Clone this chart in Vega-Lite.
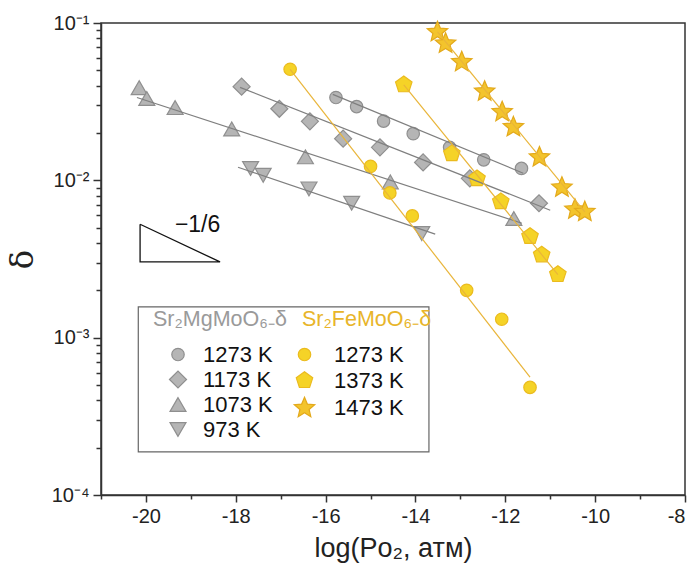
{
  "$schema": "https://vega.github.io/schema/vega-lite/v6.json",
  "width": 584,
  "height": 472,
  "autosize": "none",
  "padding": {"left": 101, "top": 23, "right": 10, "bottom": 77},
  "background": "white",
  "config": {
    "font": "Liberation Sans",
    "view": {"stroke": "#333333", "strokeWidth": 1.5},
    "axis": {"grid": false, "domainColor": "#333333", "domainWidth": 1.5, "tickColor": "#333333", "tickWidth": 1.5, "labelColor": "#222222", "titleColor": "#222222", "titleFontWeight": "normal", "labelFont": "Liberation Sans", "titleFont": "Liberation Sans"}
  },
  "datasets": {
    "mg": [
      {"series": "Mg 1273", "logPO2": -15.77, "delta": 0.0336},
      {"series": "Mg 1273", "logPO2": -15.31, "delta": 0.0294},
      {"series": "Mg 1273", "logPO2": -14.71, "delta": 0.0238},
      {"series": "Mg 1273", "logPO2": -14.05, "delta": 0.0198},
      {"series": "Mg 1273", "logPO2": -13.24, "delta": 0.0162},
      {"series": "Mg 1273", "logPO2": -12.48, "delta": 0.0135},
      {"series": "Mg 1273", "logPO2": -11.64, "delta": 0.0119},
      {"series": "Mg 1173", "logPO2": -17.87, "delta": 0.0394},
      {"series": "Mg 1173", "logPO2": -17.03, "delta": 0.0285},
      {"series": "Mg 1173", "logPO2": -16.35, "delta": 0.0237},
      {"series": "Mg 1173", "logPO2": -15.61, "delta": 0.0184},
      {"series": "Mg 1173", "logPO2": -14.79, "delta": 0.0162},
      {"series": "Mg 1173", "logPO2": -13.83, "delta": 0.0130},
      {"series": "Mg 1173", "logPO2": -12.79, "delta": 0.0103},
      {"series": "Mg 1173", "logPO2": -11.25, "delta": 0.00715},
      {"series": "Mg 1073", "logPO2": -20.15, "delta": 0.0388},
      {"series": "Mg 1073", "logPO2": -19.98, "delta": 0.0331},
      {"series": "Mg 1073", "logPO2": -19.35, "delta": 0.0290},
      {"series": "Mg 1073", "logPO2": -18.09, "delta": 0.0212},
      {"series": "Mg 1073", "logPO2": -16.45, "delta": 0.0141},
      {"series": "Mg 1073", "logPO2": -14.56, "delta": 0.00977},
      {"series": "Mg 1073", "logPO2": -11.81, "delta": 0.00572},
      {"series": "Mg 973", "logPO2": -17.67, "delta": 0.0119},
      {"series": "Mg 973", "logPO2": -17.39, "delta": 0.01077},
      {"series": "Mg 973", "logPO2": -16.37, "delta": 0.00882},
      {"series": "Mg 973", "logPO2": -15.42, "delta": 0.00715},
      {"series": "Mg 973", "logPO2": -13.86, "delta": 0.00459}
    ],
    "fe": [
      {"series": "Fe 1273", "logPO2": -16.79, "delta": 0.0508},
      {"series": "Fe 1273", "logPO2": -15.00, "delta": 0.01226},
      {"series": "Fe 1273", "logPO2": -14.57, "delta": 0.00832},
      {"series": "Fe 1273", "logPO2": -14.07, "delta": 0.00594},
      {"series": "Fe 1273", "logPO2": -12.86, "delta": 0.00200},
      {"series": "Fe 1273", "logPO2": -12.08, "delta": 0.00131},
      {"series": "Fe 1273", "logPO2": -11.45, "delta": 0.000483},
      {"series": "Fe 1373", "logPO2": -14.26, "delta": 0.0405},
      {"series": "Fe 1373", "logPO2": -13.19, "delta": 0.0148},
      {"series": "Fe 1373", "logPO2": -12.63, "delta": 0.01026},
      {"series": "Fe 1373", "logPO2": -12.10, "delta": 0.00733},
      {"series": "Fe 1373", "logPO2": -11.45, "delta": 0.00440},
      {"series": "Fe 1373", "logPO2": -11.19, "delta": 0.00336},
      {"series": "Fe 1373", "logPO2": -10.83, "delta": 0.00252},
      {"series": "Fe 1473", "logPO2": -13.51, "delta": 0.0877},
      {"series": "Fe 1473", "logPO2": -13.33, "delta": 0.0740},
      {"series": "Fe 1473", "logPO2": -12.97, "delta": 0.0565},
      {"series": "Fe 1473", "logPO2": -12.46, "delta": 0.0367},
      {"series": "Fe 1473", "logPO2": -12.07, "delta": 0.0272},
      {"series": "Fe 1473", "logPO2": -11.82, "delta": 0.0218},
      {"series": "Fe 1473", "logPO2": -11.24, "delta": 0.01402},
      {"series": "Fe 1473", "logPO2": -10.74, "delta": 0.00901},
      {"series": "Fe 1473", "logPO2": -10.45, "delta": 0.00653},
      {"series": "Fe 1473", "logPO2": -10.23, "delta": 0.00630}
    ],
    "mgfit": [
      {"series": "Mg 1273", "logPO2": -15.84, "delta": 0.0352},
      {"series": "Mg 1273", "logPO2": -11.60, "delta": 0.0111},
      {"series": "Mg 1173", "logPO2": -17.905, "delta": 0.0390},
      {"series": "Mg 1173", "logPO2": -11.00, "delta": 0.00646},
      {"series": "Mg 1073", "logPO2": -20.2, "delta": 0.0336},
      {"series": "Mg 1073", "logPO2": -11.63, "delta": 0.00534},
      {"series": "Mg 973", "logPO2": -17.95, "delta": 0.01211},
      {"series": "Mg 973", "logPO2": -13.56, "delta": 0.00455}
    ],
    "fefit": [
      {"series": "Fe 1273", "logPO2": -16.79, "delta": 0.0508},
      {"series": "Fe 1273", "logPO2": -11.45, "delta": 0.000561},
      {"series": "Fe 1373", "logPO2": -14.26, "delta": 0.0405},
      {"series": "Fe 1373", "logPO2": -10.83, "delta": 0.00252},
      {"series": "Fe 1473", "logPO2": -13.51, "delta": 0.0877},
      {"series": "Fe 1473", "logPO2": -10.23, "delta": 0.00630}
    ],
    "slope": [
      {"logPO2": -20.13, "delta": 0.00526, "order": 1},
      {"logPO2": -20.13, "delta": 0.00303, "order": 2},
      {"logPO2": -18.35, "delta": 0.00303, "order": 3},
      {"logPO2": -20.13, "delta": 0.00526, "order": 4}
    ],
    "slopelabel": [{"logPO2": -18.85, "delta": 0.00519, "label": "−1/6"}],
    "legendbox": [{"logPO2": -20.17, "logPO2_end": -13.70, "delta": 0.00157, "delta_end": 0.000188}]
  },
  "encoding": {
    "x": {
      "field": "logPO2", "type": "quantitative",
      "scale": {"domain": [-21, -8], "nice": false, "zero": false},
      "axis": {
        "values": [-21, -20, -19, -18, -17, -16, -15, -14, -13, -12, -11, -10, -9, -8],
        "labelExpr": "datum.value % 2 == 0 ? '' + datum.value : ''",
        "tickSize": {"condition": {"test": "datum.value % 2 == 0", "value": 7}, "value": 4},
        "labelPadding": 4, "labelFontSize": 20, "titleFontSize": 27, "titlePadding": 9
      },
      "title": "log(Po₂, атм)"
    },
    "y": {
      "field": "delta", "type": "quantitative",
      "scale": {"type": "log", "domain": [0.0001, 0.1], "nice": false},
      "axis": {
        "values": [0.0001, 0.0002, 0.0003, 0.0004, 0.0005, 0.0006, 0.0007, 0.0008, 0.0009, 0.001, 0.002, 0.003, 0.004, 0.005, 0.006, 0.007, 0.008, 0.009, 0.01, 0.02, 0.03, 0.04, 0.05, 0.06, 0.07, 0.08, 0.09, 0.1],
        "labelExpr": "datum.value == 0.1 ? '10⁻¹' : datum.value == 0.01 ? '10⁻²' : datum.value == 0.001 ? '10⁻³' : datum.value == 0.0001 ? '10⁻⁴' : ''",
        "tickSize": {"condition": {"test": "datum.value == 0.1 || datum.value == 0.01 || datum.value == 0.001 || datum.value == 0.0001", "value": 8}, "value": 5},
        "labelPadding": 4, "labelFontSize": 20, "titleFontSize": 32, "titleFont": "DejaVu Serif", "titlePadding": 12, "titleAngle": -90
      },
      "title": "δ"
    }
  },
  "layer": [
    {
      "data": {"name": "legendbox"},
      "mark": {"type": "rect", "fill": "transparent", "stroke": "#666666", "strokeWidth": 1.2},
      "encoding": {
        "x2": {"field": "logPO2_end"},
        "y2": {"field": "delta_end"}
      }
    },
    {
      "data": {"name": "slope"},
      "mark": {"type": "line", "color": "#111111", "strokeWidth": 1.3},
      "encoding": {"order": {"field": "order", "type": "quantitative"}}
    },
    {
      "data": {"name": "slopelabel"},
      "mark": {"type": "text", "fontSize": 23, "color": "#111111", "align": "center", "baseline": "middle"},
      "encoding": {"text": {"field": "label", "type": "nominal"}}
    },
    {
      "data": {"name": "mg"},
      "mark": {"type": "point", "filled": true, "opacity": 1, "strokeWidth": 1.2},
      "encoding": {
        "shape": {
          "field": "series", "type": "nominal", "title": "Sr₂MgMoO₆₋δ",
          "scale": {"domain": ["Mg 1273", "Mg 1173", "Mg 1073", "Mg 973"], "range": ["circle", "diamond", "triangle-up", "triangle-down"]},
          "legend": {
            "orient": "none", "legendX": 52, "legendY": 286, "padding": 0,
            "titleColor": "#9a9a9a", "titleFontSize": 21.5, "titleFontWeight": "normal", "titlePadding": 13,
            "labelFontSize": 22, "labelColor": "#111111", "labelOffset": 14, "rowPadding": 3, "symbolOffset": 14,
            "symbolStrokeWidth": 1.2, "labelExpr": "split(datum.label, ' ')[1] + ' K'"
          }
        },
        "fill": {"field": "series", "type": "nominal", "title": "Sr₂MgMoO₆₋δ", "scale": {"domain": ["Mg 1273", "Mg 1173", "Mg 1073", "Mg 973"], "range": ["#b5b5b5", "#b5b5b5", "#b5b5b5", "#b5b5b5"]}},
        "stroke": {"field": "series", "type": "nominal", "title": "Sr₂MgMoO₆₋δ", "scale": {"domain": ["Mg 1273", "Mg 1173", "Mg 1073", "Mg 973"], "range": ["#8f8f8f", "#8f8f8f", "#8f8f8f", "#8f8f8f"]}},
        "size": {"field": "series", "type": "nominal", "title": "Sr₂MgMoO₆₋δ", "scale": {"type": "ordinal", "domain": ["Mg 1273", "Mg 1173", "Mg 1073", "Mg 973"], "range": [155, 290, 255, 255]}}
      }
    },
    {
      "data": {"name": "fe"},
      "mark": {"type": "point", "filled": true, "opacity": 1, "strokeWidth": 1.2},
      "encoding": {
        "shape": {
          "field": "series", "type": "nominal", "title": "Sr₂FeMoO₆₋δ",
          "scale": {"domain": ["Fe 1273", "Fe 1373", "Fe 1473"], "range": ["circle", "M0,-1L0.951,-0.309L0.588,0.809L-0.588,0.809L-0.951,-0.309Z", "M0,-1L0.265,-0.364L0.951,-0.309L0.428,0.139L0.588,0.809L0,0.45L-0.588,0.809L-0.428,0.139L-0.951,-0.309L-0.265,-0.364Z"]},
          "legend": {
            "orient": "none", "legendX": 201, "legendY": 286, "padding": 0,
            "titleColor": "#e8b52a", "titleFontSize": 21.5, "titleFontWeight": "normal", "titlePadding": 13,
            "labelFontSize": 22, "labelColor": "#111111", "labelOffset": 18, "rowPadding": 3, "symbolOffset": -9,
            "symbolStrokeWidth": 1.2, "labelExpr": "split(datum.label, ' ')[1] + ' K'"
          }
        },
        "fill": {"field": "series", "type": "nominal", "title": "Sr₂FeMoO₆₋δ", "scale": {"domain": ["Fe 1273", "Fe 1373", "Fe 1473"], "range": ["#f5d327", "#f5d327", "#f3c42c"]}},
        "stroke": {"field": "series", "type": "nominal", "title": "Sr₂FeMoO₆₋δ", "scale": {"domain": ["Fe 1273", "Fe 1373", "Fe 1473"], "range": ["#ebbb1e", "#ebbb1e", "#e3a91b"]}},
        "size": {"field": "series", "type": "nominal", "title": "Sr₂FeMoO₆₋δ", "scale": {"type": "ordinal", "domain": ["Fe 1273", "Fe 1373", "Fe 1473"], "range": [155, 300, 460]}}
      }
    },
    {
      "data": {"name": "mgfit"},
      "mark": {"type": "line", "color": "#7f7f7f", "strokeWidth": 1.2},
      "encoding": {"detail": {"field": "series", "type": "nominal"}}
    },
    {
      "data": {"name": "fefit"},
      "mark": {"type": "line", "color": "#e9b53a", "strokeWidth": 1.2},
      "encoding": {"detail": {"field": "series", "type": "nominal"}}
    }
  ],
  "resolve": {
    "scale": {"shape": "independent", "fill": "independent", "stroke": "independent", "size": "independent"},
    "legend": {"shape": "independent", "fill": "independent", "stroke": "independent", "size": "independent"}
  }
}
